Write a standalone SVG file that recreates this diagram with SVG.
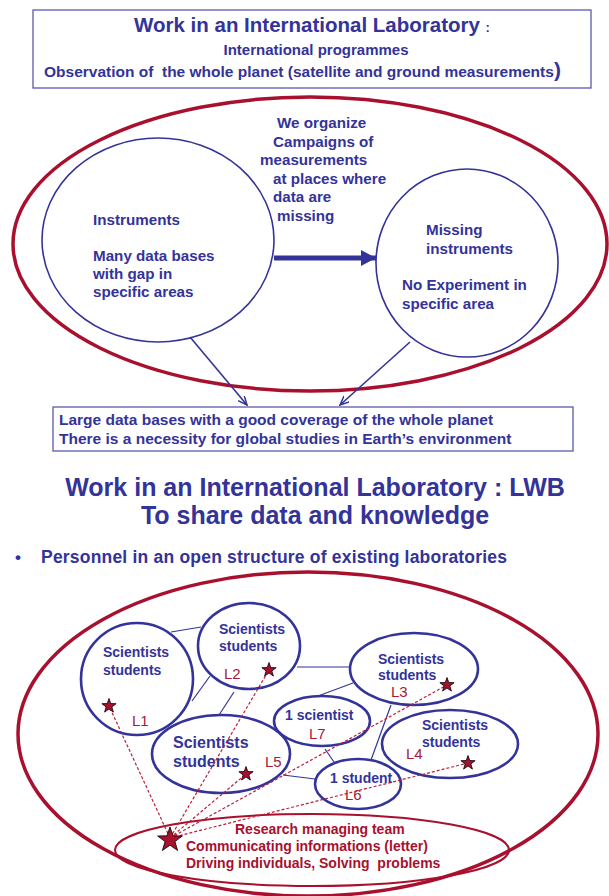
<svg xmlns="http://www.w3.org/2000/svg" width="609" height="896" viewBox="0 0 609 896">
<style>
text{font-family:"Liberation Sans",Arial,sans-serif;font-weight:bold;fill:#333399}
.pre{white-space:pre}
.box{fill:#fff;stroke:#5a5aaa;stroke-width:1.3}
.red{fill:none;stroke:#a8102e;stroke-width:3.5}
.redthin{fill:none;stroke:#a8102e;stroke-width:2}
.blue{fill:none;stroke:#333399;stroke-width:1.6}
.node{fill:#fff;stroke:#333399;stroke-width:2.6}
.link{stroke:#333399;stroke-width:1.2;fill:none}
.dash{stroke:#b8203c;stroke-width:1.2;stroke-dasharray:3,2;fill:none}
.lab{font-weight:normal;fill:#a8183a;font-size:15px}
.rt{fill:#a8102e;font-size:14px}
.m{font-size:15.2px}
.b{font-size:15.5px}
.n{font-size:14px}
.star{fill:#a8102e;stroke:#000;stroke-width:0.8}
</style>
<defs>
<marker id="thick" markerUnits="userSpaceOnUse" markerWidth="16" markerHeight="18" refX="15" refY="8" orient="auto"><path d="M0,0 L15,8 L0,16 z" fill="#333399"/></marker>
<marker id="thin" markerUnits="userSpaceOnUse" markerWidth="10" markerHeight="10" refX="9" refY="4" orient="auto"><path d="M0,0 L9,4 L0,8" fill="none" stroke="#333399" stroke-width="1.5"/></marker>
<polygon id="s" class="star" points="0,-7.5 1.76,-2.43 7.13,-2.32 2.85,0.93 4.41,6.07 0,3 -4.41,6.07 -2.85,0.93 -7.13,-2.32 -1.76,-2.43"/>
<polygon id="S" class="star" points="0,-13 3.06,-4.21 12.37,-4.01 4.94,1.61 7.64,10.51 0,5.2 -7.64,10.51 -4.94,1.61 -12.37,-4.01 -3.06,-4.21"/>
</defs>

<g id="top-box">
<rect class="box" x="33" y="10" width="558" height="78"/>
<text x="134" y="32" font-size="20.5">Work in an International Laboratory <tspan font-size="13">:</tspan></text>
<text x="316" y="55" font-size="15" text-anchor="middle">International programmes</text>
<text class="pre" x="44" y="77" font-size="15.5">Observation of  the whole planet (satellite and ground measurements<tspan font-size="21">)</tspan></text>
</g>

<g id="campaign-ellipse">
<ellipse class="red" cx="310" cy="244" rx="297" ry="147"/>
</g>
<g id="instruments">
<ellipse class="blue" cx="158" cy="240" rx="116" ry="102"/>
<text class="m" x="93" y="225">Instruments</text>
<text class="m" x="93" y="261">Many data bases</text>
<text class="m" x="93" y="279">with gap in</text>
<text class="m" x="93" y="297">specific areas</text>
</g>
<g id="campaign-text">
<text class="m" x="277" y="128">We organize</text>
<text class="m" x="273" y="147">Campaigns of</text>
<text class="m" x="260" y="165">measurements</text>
<text class="m" x="273" y="184">at places where</text>
<text class="m" x="273" y="202">data are</text>
<text class="m" x="277" y="221">missing</text>
</g>
<g id="missing">
<ellipse class="blue" cx="467" cy="263" rx="91" ry="94"/>
<text class="m" x="426" y="235">Missing</text>
<text class="m" x="426" y="254">instruments</text>
<text class="m" x="402" y="290">No Experiment in</text>
<text class="m" x="402" y="309">specific area</text>
</g>

<g id="global-box">
<rect class="box" x="53" y="407" width="520" height="44"/>
<text class="b" x="59" y="425">Large data bases with a good coverage of the whole planet</text>
<text class="b" x="59" y="444">There is a necessity for global studies in Earth’s environment</text>
</g>

<g id="connectors-top">
<line x1="274" y1="258" x2="376" y2="258" stroke="#333399" stroke-width="5" marker-end="url(#thick)"/>
<line class="blue" x1="190" y1="337" x2="247" y2="405" marker-end="url(#thin)"/>
<line class="blue" x1="410" y1="342" x2="340" y2="405" marker-end="url(#thin)"/>
</g>

<g id="title2">
<text x="315" y="496" font-size="25" text-anchor="middle">Work in an International Laboratory : LWB</text>
<text x="315" y="524" font-size="25" text-anchor="middle">To share data and knowledge</text>
<text x="15" y="563" font-size="17">•</text>
<text x="41" y="563" font-size="17.5" textLength="466" lengthAdjust="spacing">Personnel in an open structure of existing laboratories</text>
</g>

<g id="lwb-ellipse">
<ellipse class="red" cx="308" cy="734" rx="290" ry="162"/>
</g>

<g id="links">
<line class="link" x1="171" y1="632" x2="201" y2="627"/>
<line class="link" x1="192" y1="701" x2="210" y2="676"/>
<line class="link" x1="234" y1="692" x2="219" y2="715"/>
<line class="link" x1="297" y1="667" x2="351" y2="667"/>
<line class="link" x1="353" y1="683" x2="318" y2="696"/>
<line class="link" x1="391" y1="705" x2="371" y2="760"/>
<line class="link" x1="325" y1="749" x2="334" y2="762"/>
<line class="link" x1="283" y1="775" x2="315" y2="779"/>
</g>

<g id="L1"><ellipse class="node" cx="137" cy="679" rx="56" ry="56"/>
<text class="n" x="103" y="657">Scientists</text><text class="n" x="103" y="675">students</text>
<text class="lab" x="132" y="726">L1</text></g>
<g id="L2"><ellipse class="node" cx="249" cy="646" rx="51" ry="43"/>
<text class="n" x="219" y="634">Scientists</text><text class="n" x="219" y="651">students</text>
<text class="lab" x="224" y="679">L2</text></g>
<g id="L3"><ellipse class="node" cx="414" cy="669" rx="64" ry="36"/>
<text class="n" x="378" y="664">Scientists</text><text class="n" x="378" y="680">students</text>
<text class="lab" x="391" y="697">L3</text></g>
<g id="L7"><ellipse class="node" cx="322" cy="721" rx="48" ry="25"/>
<text class="n" x="285" y="720">1 scientist</text>
<text class="lab" x="309" y="739">L7</text></g>
<g id="L4"><ellipse class="node" cx="450" cy="744" rx="68" ry="34" stroke-width="3.4"/>
<text class="n" x="422" y="730">Scientists</text><text class="n" x="422" y="747">students</text>
<text class="lab" x="406" y="759">L4</text></g>
<g id="L5"><ellipse class="node" cx="221" cy="754" rx="69" ry="39"/>
<text x="173" y="748" font-size="16">Scientists</text><text x="173" y="767" font-size="16">students</text>
<text class="lab" x="265" y="767">L5</text></g>
<g id="L6"><ellipse class="node" cx="358" cy="784" rx="43" ry="25"/>
<text class="n" x="330" y="783">1 student</text>
<text class="lab" x="345" y="800">L6</text></g>

<g id="team">
<ellipse class="redthin" cx="312" cy="850" rx="197" ry="36"/>
<text class="rt" x="235" y="834">Research managing team</text>
<text class="rt" x="186" y="851">Communicating informations (letter)</text>
<text class="rt pre" x="186" y="868">Driving individuals, Solving  problems</text>
</g>

<g id="dashes">
<line class="dash" x1="170" y1="838" x2="109" y2="706"/>
<line class="dash" x1="170" y1="838" x2="269" y2="670"/>
<line class="dash" x1="170" y1="838" x2="246" y2="774"/>
<line class="dash" x1="170" y1="838" x2="447" y2="685"/>
<line class="dash" x1="170" y1="838" x2="468" y2="763"/>
</g>

<g id="stars">
<use href="#s" x="109" y="706"/>
<use href="#s" x="269" y="670"/>
<use href="#s" x="447" y="685"/>
<use href="#s" x="468" y="763"/>
<use href="#s" x="246" y="774"/>
<use href="#S" x="170" y="840"/>
</g>
</svg>
